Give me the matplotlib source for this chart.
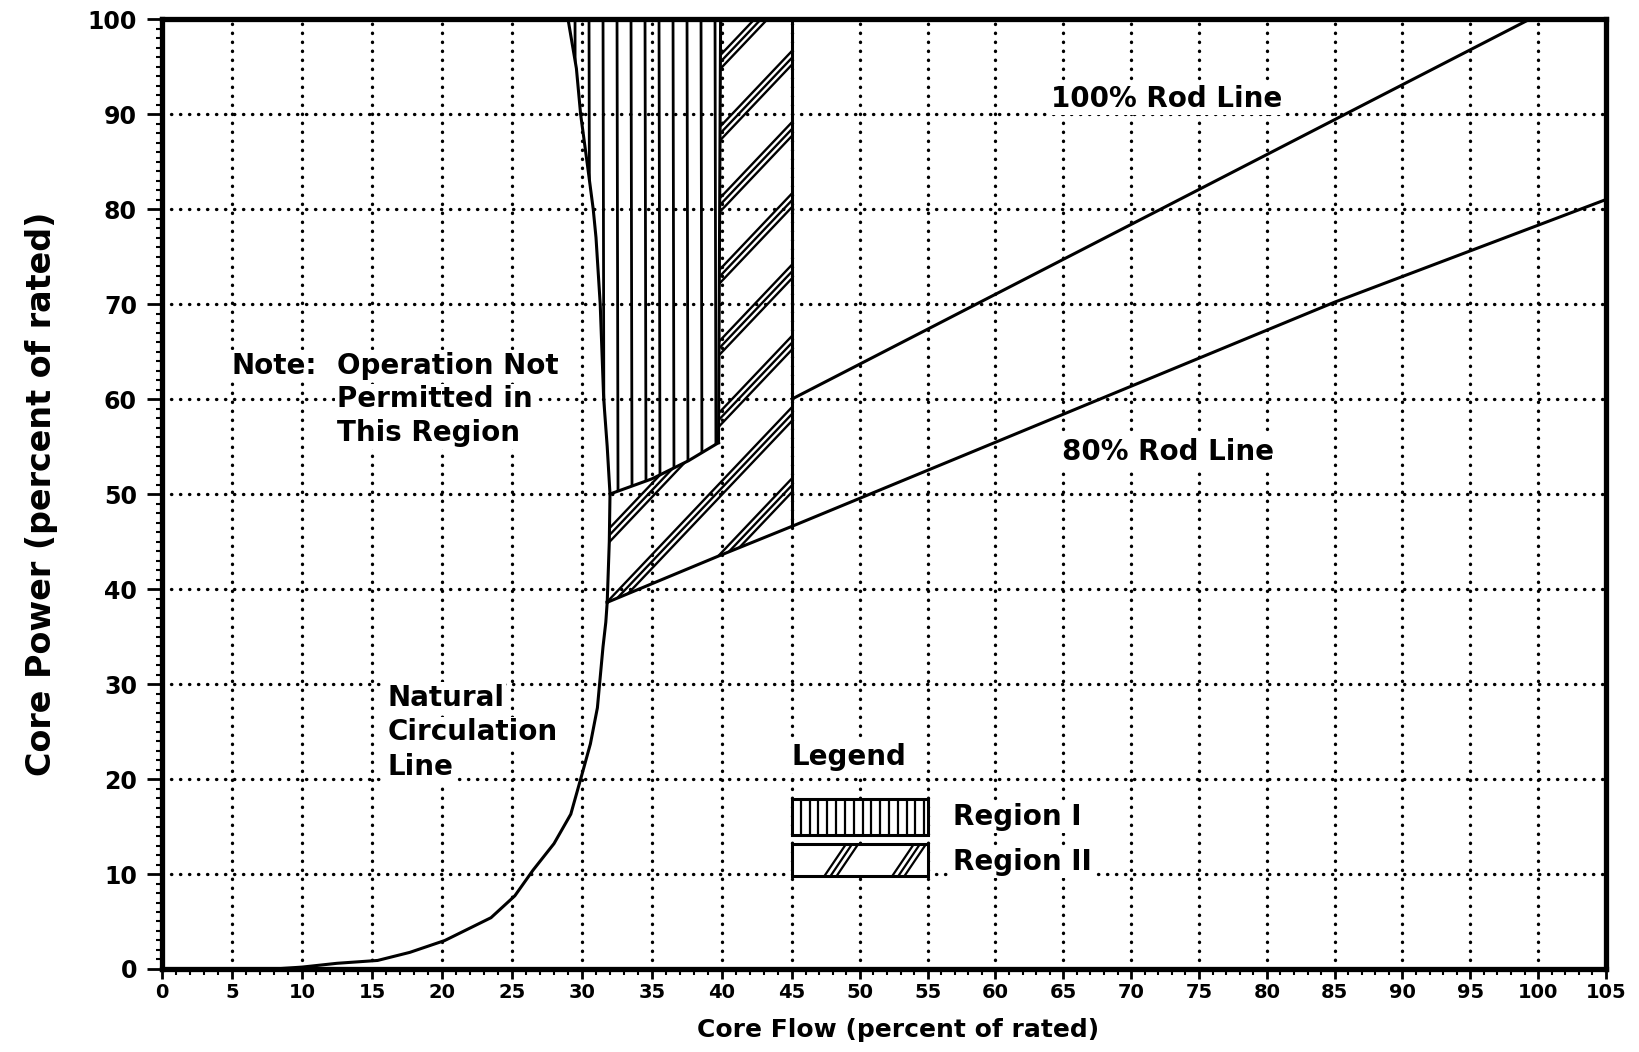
import numpy as np
import matplotlib.pyplot as plt
from matplotlib.patches import Polygon, Rectangle
from matplotlib.ticker import MultipleLocator

plt.rcParams['font.family'] = ['DejaVu Sans']

# natural circulation line (core flow %, core power %)
nat_flow = [0, 8, 10, 12.5, 15.4, 17.7, 20.2, 23.5, 25.2, 26.5, 28.0, 29.2, 30.0, 30.6, 31.1, 31.5, 31.7, 31.8]
nat_power = [0, 0, 0.2, 0.6, 0.9, 1.75, 3.0, 5.4, 7.7, 10.4, 13.2, 16.3, 20.5, 23.7, 27.5, 33.9, 36.5, 38.6]

# boundary above the natural circulation line (left edge of the regions)
edge_flow = [31.8, 31.95, 32.0, 31.8, 31.55, 31.3, 31.0, 30.8, 30.4, 29.9, 29.6, 29.0]
edge_power = [38.6, 45, 50, 55, 60, 70, 77, 80, 84.5, 90, 94.8, 100]

# region I lower / right boundary
r1_bot_flow = [32.0, 35.0, 37.6, 39.75]
r1_bot_power = [50.0, 51.6, 53.5, 55.4]
r1_right_flow = [39.75, 39.9]
r1_right_power = [55.4, 100]

# region II right boundary
r2_right_flow = [45, 45]
r2_right_power = [46.6, 100]

# rod lines
rod80_flow = [31.8, 39.8, 45, 85, 105]
rod80_power = [38.6, 43.5, 46.6, 70.2, 81]
rod100_flow = [45, 99.4]
rod100_power = [60, 100]

xticks = list(range(0, 106, 5))
yticks = list(range(0, 101, 10))

# the printed flow axis is slightly stretched on the left side
scale_x = [0, 45, 105]
scale_u = [0, 630, 1444]


def fwd(x):
    return np.interp(x, scale_x, scale_u, left=-1e9, right=1e9)


def inv(u):
    return np.interp(u, scale_u, scale_x, left=-1e9, right=1e9)


fig = plt.figure(figsize=(16.4, 10.52), dpi=100)
ax = fig.add_axes([162 / 1640, 0.0789, 1444 / 1640, 0.903])
ax.set_xscale('function', functions=(fwd, inv))
ax.set_xlim(0, 105)
ax.set_ylim(0, 100)

ax.set_xticks(xticks)
ax.set_yticks(yticks)
ax.xaxis.set_minor_locator(MultipleLocator(1))
ax.yaxis.set_minor_locator(MultipleLocator(1))
ax.tick_params(axis='x', which='major', direction='out', length=7, width=2, pad=3,
               labelsize=14)
ax.tick_params(axis='y', which='major', direction='out', length=11, width=2, pad=7,
               labelsize=17)
ax.tick_params(which='minor', direction='out', length=4, width=1.5)
for lab in ax.get_xticklabels() + ax.get_yticklabels():
    lab.set_fontweight('bold')
for s in ax.spines.values():
    s.set_linewidth(3.8)

ax.grid(True, which='major', color='black', linestyle=(0, (0.1, 2.6)),
        linewidth=2.4, dash_capstyle='round')
ax.set_axisbelow(True)
for gl in ax.get_xgridlines() + ax.get_ygridlines():
    gl.set_dash_capstyle('round')

lw = 2.2
# outlines
ax.plot(nat_flow, nat_power, color='black', lw=lw)
ax.plot(edge_flow, edge_power, color='black', lw=lw)
ax.plot(r1_bot_flow, r1_bot_power, color='black', lw=lw)
ax.plot(r1_right_flow, r1_right_power, color='black', lw=lw)
ax.plot(r2_right_flow, r2_right_power, color='black', lw=lw)
ax.plot(rod80_flow, rod80_power, color='black', lw=lw)
ax.plot(rod100_flow, rod100_power, color='black', lw=lw)

# region polygons (used as clip paths for the hatching)
e_up = [(f, p) for f, p in zip(edge_flow, edge_power) if p >= 50]
r1_pts = e_up + [(r1_right_flow[1], 100), (r1_right_flow[0], r1_right_power[0])] \
    + list(zip(r1_bot_flow, r1_bot_power))[::-1]
reg1 = Polygon(r1_pts, closed=True, fill=False, edgecolor='none')
ax.add_patch(reg1)

e_low = [(f, p) for f, p in zip(edge_flow, edge_power) if p <= 50]
r80 = [(f, p) for f, p in zip(rod80_flow, rod80_power) if f <= 45]
r2_pts = r80 + [(45, 100), (r1_right_flow[1], 100), (r1_right_flow[0], r1_right_power[0])] \
    + list(zip(r1_bot_flow, r1_bot_power))[::-1] + e_low[::-1]
reg2 = Polygon(r2_pts, closed=True, fill=False, edgecolor='none')
ax.add_patch(reg2)

# region I hatch: vertical lines
for x in np.arange(29.5, 40.0, 1.0):
    ln, = ax.plot([x, x + 0.08], [101, 45], color='black', lw=2.0)
    ln.set_clip_path(reg1)

# region II hatch: bands of three diagonal lines
slope = 1.55
for k in range(8):
    top = 51.6 + 7.5 * k
    for off in (0.0, 0.72, 1.44):
        c = top - off
        ln, = ax.plot([28, 46], [c + slope * (28 - 45), c + slope * (46 - 45)],
                      color='black', lw=1.7)
        ln.set_clip_path(reg2)

# legend
txt_kw = dict(fontsize=20, fontweight='bold', color='black',
              bbox=dict(facecolor='white', edgecolor='none', pad=1.5))
ax.text(45.0, 22.3, 'Legend', ha='left', va='center', **txt_kw)
box1 = Rectangle((45, 14.1), 10, 3.8, facecolor='white', edgecolor='black', lw=2.2, zorder=3)
box2 = Rectangle((45, 9.8), 10, 3.4, facecolor='white', edgecolor='black', lw=2.2, zorder=3)
ax.add_patch(box1)
ax.add_patch(box2)
for x in np.arange(45.65, 55, 0.65):
    ln, = ax.plot([x, x], [14.1, 17.9], color='black', lw=1.6, zorder=4)
    ln.set_clip_path(box1)
for x0 in (47.3, 52.3):
    for off in (0.0, 0.45, 0.9):
        ln, = ax.plot([x0 + off, x0 + off + 1.8], [9.6, 13.4], color='black', lw=1.6, zorder=4)
        ln.set_clip_path(box2)
ax.text(56.9, 16.0, 'Region I', ha='left', va='center', **txt_kw)
ax.text(56.9, 11.3, 'Region II', ha='left', va='center', **txt_kw)

# annotations
ax.text(64.1, 91.6, '100% Rod Line', ha='left', va='center', **txt_kw)
ax.text(64.9, 54.4, '80% Rod Line', ha='left', va='center', **txt_kw)
ax.text(5.0, 63.5, 'Note:', ha='left', va='center', **txt_kw)
note_lines = ['Operation Not', 'Permitted in', 'This Region']
for i, s in enumerate(note_lines):
    ax.text(12.5, 63.5 - 3.55 * i, s, ha='left', va='center', **txt_kw)
nat_lines = ['Natural', 'Circulation', 'Line']
for i, s in enumerate(nat_lines):
    ax.text(16.1, 28.5 - 3.6 * i, s, ha='left', va='center', **txt_kw)

ax.set_xlabel('Core Flow (percent of rated)', fontsize=18, fontweight='bold')
ax.set_ylabel('Core Power (percent of rated)', fontsize=24, fontweight='bold')
ax.xaxis.set_label_coords(0.51, -0.052)
ax.yaxis.set_label_coords(-0.072, 0.5)

fig.savefig('out.png', dpi=100)
